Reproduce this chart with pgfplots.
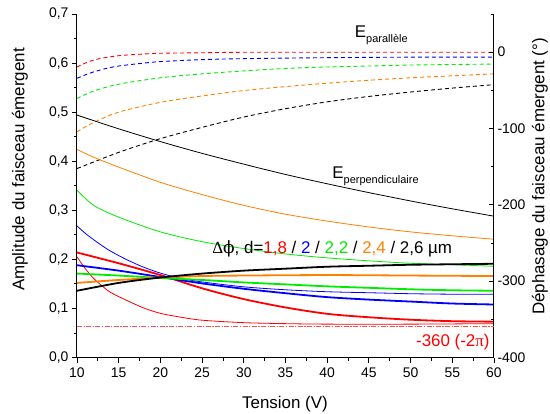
\documentclass[border=0pt]{standalone}
\usepackage{fontspec}
\setmainfont{Liberation Sans}
\newfontfamily\grserif{Liberation Serif}
\newfontfamily\grdejavu{DejaVu Serif}
\usepackage{pgfplots}
\pgfplotsset{compat=1.18}
\definecolor{myred}{RGB}{255,0,0}
\definecolor{myblue}{RGB}{0,0,255}
\definecolor{mygreen}{RGB}{0,235,0}
\definecolor{myorange}{RGB}{255,128,0}
\definecolor{mypink}{RGB}{255,80,80}
\pgfplotsset{
  dsh/.style={line width=0.9bp, dash pattern=on 4bp off 3bp, smooth},
  thn/.style={line width=0.8bp, smooth},
  thk/.style={line width=1.8bp, smooth},
}
\begin{document}
\begin{tikzpicture}
\begin{axis}[
  name=main,
  scale only axis, width=417bp, height=343.5bp,
  xmin=10, xmax=60, ymin=0, ymax=0.7,
  axis x line*=bottom, axis y line*=left,
  axis line style={-, line width=1bp, black},
  tick align=outside, major tick length=5bp, minor tick length=3bp,
  every tick/.style={black, line width=0.8bp},
  xtick={10,15,20,25,30,35,40,45,50,55,60}, minor x tick num=1,
  ytick={0,0.1,0.2,0.3,0.4,0.5,0.6,0.7}, minor y tick num=1,
  scaled y ticks=false,
  yticklabel style={/pgf/number format/fixed, /pgf/number format/fixed zerofill,
    /pgf/number format/precision=1, /pgf/number format/use comma},
  xticklabel style={yshift=-2bp},
  /pgf/number format/assume math mode=true,
  tick label style={font=\fontsize{14}{16}\selectfont},
  clip=false,
]
% E parallele (dashed)
\addplot[dsh, myred] coordinates {(10,0.592)(11,0.600)(12,0.606)(13,0.610)(15,0.615)(17.5,0.618)(20,0.620)(25,0.621)(30,0.622)(40,0.622)(50,0.622)(60,0.622)};
\addplot[dsh, myblue] coordinates {(10,0.569)(11,0.576)(12,0.582)(13.5,0.589)(15,0.594)(17.5,0.599)(20,0.603)(25,0.607)(30,0.609)(40,0.611)(50,0.612)(60,0.612)};
\addplot[dsh, mygreen] coordinates {(10,0.528)(12,0.543)(15,0.557)(20,0.570)(25,0.578)(30,0.584)(35,0.589)(40,0.592)(45,0.594)(50,0.596)(55,0.597)(60,0.598)};
\addplot[dsh, myorange] coordinates {(10,0.460)(12,0.479)(15,0.500)(20,0.520)(25,0.533)(30,0.544)(35,0.552)(40,0.559)(45,0.565)(50,0.570)(55,0.574)(60,0.578)};
\addplot[dsh, black] coordinates {(10,0.385)(15,0.418)(20,0.446)(25,0.469)(30,0.490)(35,0.507)(40,0.521)(45,0.532)(50,0.541)(55,0.549)(60,0.556)};
% E perpendiculaire (thin)
\addplot[thn, black] coordinates {(10,0.494)(15,0.466)(20,0.440)(25,0.416)(30,0.394)(35,0.373)(40,0.354)(45,0.336)(50,0.319)(55,0.303)(60,0.288)};
\addplot[thn, myorange] coordinates {(10,0.424)(12,0.408)(15,0.388)(20,0.357)(25,0.332)(30,0.310)(35,0.292)(40,0.278)(45,0.266)(50,0.256)(55,0.248)(60,0.241)};
\addplot[thn, mygreen] coordinates {(10,0.341)(12,0.310)(15,0.286)(20,0.256)(25,0.236)(30,0.222)(35,0.211)(40,0.203)(45,0.197)(50,0.192)(55,0.189)(60,0.186)};
\addplot[thn, myblue] coordinates {(10,0.268)(11,0.253)(12,0.240)(13,0.228)(14,0.217)(16,0.199)(18,0.184)(20,0.172)(22.5,0.161)(25,0.154)(30,0.144)(35,0.138)(40,0.134)(45,0.132)(50,0.130)(55,0.129)(60,0.129)};
\addplot[thn, myred] coordinates {(10,0.205)(11,0.181)(12,0.161)(13,0.146)(14,0.133)(16,0.116)(18,0.101)(20,0.090)(22.5,0.082)(25,0.076)(30,0.071)(35,0.069)(40,0.068)(50,0.068)(60,0.069)};
% Delta phi (thick)
\addplot[thk, myred] coordinates {(10,0.214)(15,0.192)(20,0.168)(25,0.141)(30,0.119)(35,0.102)(40,0.089)(45,0.082)(50,0.077)(55,0.074)(60,0.073)};
\addplot[thk, myblue] coordinates {(10,0.188)(15,0.177)(20,0.164)(25,0.151)(30,0.140)(35,0.131)(40,0.123)(45,0.118)(50,0.114)(55,0.110)(60,0.108)};
\addplot[thk, mygreen] coordinates {(10,0.171)(15,0.167)(20,0.162)(25,0.158)(30,0.153)(35,0.149)(40,0.145)(45,0.142)(50,0.139)(55,0.137)(60,0.136)};
\addplot[thk, myorange] coordinates {(10,0.152)(15,0.158)(20,0.163)(25,0.166)(30,0.167)(40,0.168)(50,0.167)(60,0.166)};
\addplot[thk, black] coordinates {(10,0.136)(15,0.152)(20,0.163)(25,0.171)(30,0.177)(35,0.181)(40,0.185)(45,0.187)(50,0.189)(55,0.190)(60,0.191)};
% annotations
\node[anchor=base west, inner sep=0pt, font=\fontsize{17}{19}\selectfont] at (axis cs:43.3,0.653) {E\raisebox{-5bp}{\fontsize{11}{13}\selectfont parallèle}};
\node[anchor=base west, inner sep=0pt, font=\fontsize{17}{19}\selectfont] at (axis cs:40.6,0.365) {E\raisebox{-5bp}{\fontsize{11}{13}\selectfont perpendiculaire}};
\node[anchor=base west, inner sep=0pt, font=\fontsize{17}{19}\selectfont] at (axis cs:26.2,0.211) {{\grserif Δ}{\grdejavu ϕ}, d=\textcolor{myred}{1,8} / \textcolor{myblue}{2} / \textcolor{mygreen}{2,2} / \textcolor{myorange}{2,4} / 2,6 µm};
\end{axis}
\begin{axis}[
  scale only axis, width=417bp, height=343.5bp,
  xmin=10, xmax=60, ymin=-400, ymax=50,
  axis x line=none, axis y line*=right,
  axis line style={-, line width=1bp, black},
  tick align=inside, major tick length=5bp, minor tick length=3bp,
  every tick/.style={black, line width=0.8bp},
  ytick={-400,-300,-200,-100,0}, minor ytick={-350,-250,-150,-50,50},
  /pgf/number format/assume math mode=true,
  tick label style={font=\fontsize{14}{16}\selectfont},
  clip=false,
]
\addplot[line width=1bp, color=mypink, dash pattern=on 5bp off 1.5bp on 1.2bp off 1.5bp] coordinates {(10,-360)(60,-360)};
\node[anchor=base east, inner sep=0pt, text=myred, font=\fontsize{17}{19}\selectfont] at (axis cs:59.5,-386) {-360 (-2{\grserif π})};
\end{axis}
\node[anchor=base, font=\fontsize{17}{19}\selectfont] at ([shift={(208bp,-50.8bp)}]main.south west) {Tension (V)};
\node[rotate=90, font=\fontsize{17}{19}\selectfont] at ([shift={(-57bp,188bp)}]main.south west) {Amplitude du faisceau émergent};
\node[rotate=90, font=\fontsize{17}{19}\selectfont] at ([shift={(463bp,181bp)}]main.south west) {Déphasage du faisceau émergent (°)};
\pgfresetboundingbox
\path ([shift={(-77bp,-56.5bp)}]main.south west) rectangle ([shift={(473bp,357.5bp)}]main.south west);
\end{tikzpicture}
\end{document}
